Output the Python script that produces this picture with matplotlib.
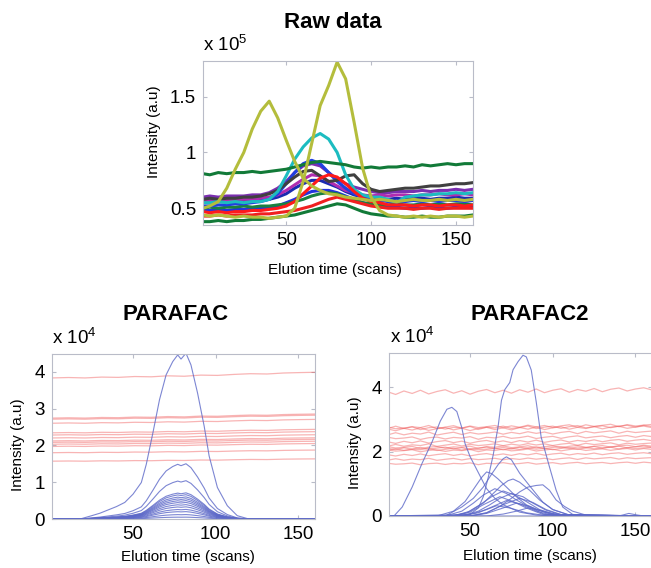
import numpy as np
import matplotlib
matplotlib.use('Agg')
import matplotlib.pyplot as plt

plt.rcParams['font.family'] = ['Liberation Sans', 'DejaVu Sans']
plt.rcParams['mathtext.fontset'] = 'custom'
plt.rcParams['mathtext.rm'] = 'Liberation Sans'

W, H = 651, 568

# ===== RAW DATA (x 10^5), read every 5 scans =====
scans = [1] + list(range(5, 161, 5))
raw_olive_a = [0.50, 0.52, 0.56, 0.68, 0.85, 1.00, 1.21, 1.37, 1.46, 1.31, 1.11, 0.92, 0.77, 0.70, 0.66, 0.63, 0.62,
               0.60, 0.59, 0.58, 0.57, 0.58, 0.57, 0.56, 0.57, 0.58, 0.57, 0.57, 0.58, 0.57, 0.58, 0.57, 0.58]
raw_olive_b = [0.44, 0.43, 0.44, 0.43, 0.42, 0.43, 0.42, 0.42, 0.41, 0.42, 0.43, 0.50, 0.74, 1.08, 1.42, 1.60, 1.81,
               1.66, 1.27, 0.86, 0.60, 0.48, 0.44, 0.43, 0.42, 0.43, 0.42, 0.43, 0.42, 0.43, 0.43, 0.42, 0.43]
raw_green_top = [0.81, 0.80, 0.82, 0.81, 0.82, 0.82, 0.83, 0.82, 0.83, 0.84, 0.85, 0.87, 0.89, 0.91, 0.92, 0.91, 0.90,
                 0.89, 0.87, 0.86, 0.87, 0.86, 0.87, 0.87, 0.88, 0.87, 0.89, 0.88, 0.89, 0.90, 0.89, 0.90, 0.90]
raw_green_low = [0.38, 0.38, 0.39, 0.38, 0.39, 0.39, 0.40, 0.40, 0.41, 0.42, 0.43, 0.44, 0.46, 0.48, 0.50, 0.52, 0.54,
                 0.53, 0.50, 0.47, 0.45, 0.44, 0.43, 0.43, 0.42, 0.42, 0.43, 0.42, 0.42, 0.43, 0.43, 0.43, 0.44]
raw_green_mid = [0.50, 0.51, 0.50, 0.51, 0.51, 0.52, 0.51, 0.52, 0.52, 0.53, 0.54, 0.56, 0.58, 0.61, 0.63, 0.64, 0.63,
                 0.60, 0.57, 0.55, 0.54, 0.53, 0.53, 0.54, 0.53, 0.53, 0.54, 0.53, 0.54, 0.53, 0.54, 0.54, 0.53]
raw_cyan = [0.55, 0.55, 0.56, 0.55, 0.56, 0.55, 0.56, 0.56, 0.58, 0.65, 0.79, 0.94, 1.05, 1.13, 1.17, 1.12, 1.00,
            0.80, 0.67, 0.62, 0.60, 0.60, 0.58, 0.55, 0.60, 0.61, 0.62, 0.62, 0.63, 0.63, 0.64, 0.63, 0.64]
raw_gray = [0.58, 0.59, 0.58, 0.59, 0.59, 0.60, 0.60, 0.61, 0.63, 0.66, 0.72, 0.78, 0.83, 0.84, 0.79, 0.74, 0.75,
            0.79, 0.80, 0.72, 0.67, 0.65, 0.66, 0.67, 0.68, 0.68, 0.69, 0.70, 0.70, 0.71, 0.72, 0.72, 0.73]
raw_purple = [0.60, 0.61, 0.60, 0.61, 0.61, 0.61, 0.62, 0.62, 0.64, 0.68, 0.74, 0.82, 0.88, 0.90, 0.88, 0.82, 0.76,
              0.72, 0.69, 0.67, 0.65, 0.64, 0.64, 0.65, 0.65, 0.65, 0.66, 0.65, 0.66, 0.66, 0.67, 0.66, 0.67]
raw_magenta = [0.57, 0.57, 0.58, 0.57, 0.58, 0.58, 0.58, 0.59, 0.60, 0.62, 0.66, 0.71, 0.76, 0.80, 0.79, 0.74, 0.70,
               0.66, 0.64, 0.62, 0.61, 0.62, 0.61, 0.62, 0.62, 0.61, 0.62, 0.62, 0.63, 0.62, 0.62, 0.63, 0.62]
raw_blue_a = [0.52, 0.52, 0.53, 0.53, 0.54, 0.54, 0.55, 0.56, 0.58, 0.63, 0.72, 0.82, 0.90, 0.93, 0.90, 0.82, 0.74,
              0.68, 0.63, 0.60, 0.58, 0.57, 0.56, 0.56, 0.56, 0.57, 0.56, 0.57, 0.56, 0.57, 0.57, 0.56, 0.57]
raw_blue_b = [0.48, 0.48, 0.49, 0.48, 0.49, 0.49, 0.49, 0.50, 0.50, 0.52, 0.55, 0.58, 0.62, 0.65, 0.66, 0.66, 0.64,
              0.61, 0.58, 0.55, 0.53, 0.52, 0.51, 0.51, 0.50, 0.51, 0.50, 0.51, 0.51, 0.50, 0.51, 0.51, 0.51]
raw_blue_c = [0.55, 0.55, 0.56, 0.56, 0.56, 0.57, 0.57, 0.57, 0.58, 0.60, 0.63, 0.68, 0.72, 0.75, 0.75, 0.72, 0.69,
              0.65, 0.62, 0.60, 0.59, 0.58, 0.58, 0.59, 0.58, 0.59, 0.59, 0.58, 0.59, 0.59, 0.60, 0.59, 0.59]
raw_red_a = [0.47, 0.46, 0.47, 0.46, 0.47, 0.47, 0.48, 0.48, 0.49, 0.50, 0.52, 0.56, 0.63, 0.70, 0.77, 0.80, 0.78,
             0.72, 0.65, 0.59, 0.56, 0.55, 0.53, 0.53, 0.53, 0.52, 0.53, 0.53, 0.52, 0.53, 0.53, 0.52, 0.53]
raw_red_b = [0.43, 0.43, 0.44, 0.43, 0.44, 0.44, 0.44, 0.45, 0.45, 0.46, 0.47, 0.48, 0.50, 0.52, 0.55, 0.58, 0.60,
             0.58, 0.56, 0.54, 0.52, 0.51, 0.50, 0.50, 0.50, 0.49, 0.50, 0.50, 0.49, 0.50, 0.50, 0.50, 0.50]

# ===== PARAFAC (x 10^4): one elution profile per component, scaled by sample scores =====
pf_blue_scans = [1, 18, 25, 30, 35, 40, 45, 50, 55, 58, 62, 66, 70, 74, 77, 79, 82, 85, 89, 93, 96, 101, 107, 113, 120, 160]
pf_blue_profile = [0, 0, 0.02, 0.035, 0.055, 0.075, 0.10, 0.15, 0.22, 0.33, 0.52, 0.72, 0.87, 0.95, 0.99, 0.965, 1.0,
                   0.93, 0.76, 0.56, 0.38, 0.19, 0.08, 0.02, 0, 0]
pf_blue_scores = [4.5, 1.5, 1.04, 0.71, 0.66, 0.60, 0.55, 0.50, 0.45, 0.39, 0.33, 0.26, 0.20, 0.12, 0.05]
pf_red_scans = [1, 11, 21, 31, 41, 51, 61, 71, 81, 91, 101, 111, 121, 131, 141, 151, 160]
pf_red_profile = [1.0, 1.003, 1.0, 1.006, 1.004, 1.010, 1.008, 1.015, 1.012, 1.020, 1.018, 1.025, 1.030, 1.028,
                  1.035, 1.038, 1.040]
pf_red_scores = [3.83, 2.74, 2.71, 2.60, 2.34, 2.28, 2.20, 2.12, 2.08, 2.03, 1.97, 1.80, 1.57]

# ===== PARAFAC2 (x 10^4): elution profiles differ per sample =====
p2_blue_scans = [
    [1, 50, 55, 58, 61, 64, 67, 69, 71, 74, 76, 79, 82, 84, 87, 90, 93, 96, 98, 102, 106, 112, 120, 160],
    [1, 4, 9, 15, 21, 27, 32, 36, 39, 42, 45, 47, 50, 55, 60, 65, 70, 80, 90, 100, 160],
    [1, 35, 45, 52, 58, 63, 67, 70, 72, 75, 80, 86, 94, 100, 110, 160],
    [1, 30, 40, 47, 53, 57, 60, 63, 67, 70, 74, 78, 84, 90, 100, 160],
    [1, 40, 50, 58, 64, 69, 73, 76, 80, 86, 92, 100, 110, 160],
    [1, 50, 60, 68, 75, 80, 85, 90, 94, 98, 102, 107, 112, 120, 160],
    [1, 35, 45, 52, 58, 65, 72, 78, 85, 95, 160],
    [1, 38, 48, 56, 63, 70, 77, 84, 92, 102, 160],
    [1, 45, 55, 62, 68, 75, 82, 88, 96, 106, 160],
    [1, 40, 50, 58, 68, 76, 84, 94, 160],
    [1, 50, 60, 70, 80, 88, 96, 106, 160],
    [1, 45, 55, 64, 72, 80, 90, 100, 160],
    [1, 50, 60, 70, 78, 86, 95, 105, 160],
    [1, 42, 52, 60, 66, 74, 84, 95, 160],
    [1, 60, 70, 78, 85, 92, 100, 110, 160],
    [1, 140, 146, 150, 155, 160],
]
p2_blue_vals = [
    [0, 0.05, 0.25, 0.6, 1.2, 1.9, 2.8, 3.6, 3.93, 4.15, 4.55, 4.8, 5.0, 4.95, 4.54, 3.55, 2.45, 1.9, 1.53, 0.81,
     0.28, 0.05, 0.01, 0],
    [0, 0, 0.28, 0.9, 1.64, 2.3, 2.95, 3.32, 3.38, 3.25, 2.75, 2.25, 1.85, 1.35, 0.85, 0.55, 0.35, 0.12, 0.03, 0, 0],
    [0, 0, 0.28, 0.55, 0.9, 1.3, 1.6, 1.78, 1.84, 1.75, 1.33, 0.94, 0.43, 0.2, 0.03, 0],
    [0, 0, 0.15, 0.45, 0.9, 1.2, 1.37, 1.32, 1.15, 1.0, 0.8, 0.6, 0.35, 0.2, 0.04, 0],
    [0, 0, 0.15, 0.4, 0.7, 0.95, 1.1, 1.15, 1.05, 0.8, 0.5, 0.2, 0.03, 0],
    [0, 0, 0.1, 0.3, 0.55, 0.75, 0.9, 0.95, 0.97, 0.8, 0.5, 0.3, 0.15, 0.03, 0],
    [0, 0, 0.15, 0.4, 0.65, 0.85, 0.7, 0.5, 0.3, 0.05, 0],
    [0, 0, 0.1, 0.35, 0.6, 0.78, 0.65, 0.45, 0.2, 0.03, 0],
    [0, 0, 0.15, 0.35, 0.55, 0.7, 0.6, 0.4, 0.18, 0.02, 0],
    [0, 0, 0.12, 0.35, 0.6, 0.45, 0.25, 0.05, 0],
    [0, 0, 0.1, 0.35, 0.55, 0.42, 0.2, 0.03, 0],
    [0, 0, 0.1, 0.3, 0.48, 0.38, 0.15, 0.02, 0],
    [0, 0, 0.08, 0.25, 0.4, 0.3, 0.12, 0.02, 0],
    [0, 0, 0.08, 0.2, 0.32, 0.25, 0.1, 0.02, 0],
    [0, 0, 0.06, 0.15, 0.25, 0.18, 0.08, 0.01, 0],
    [0, 0, 0.08, 0.04, 0, 0],
]
p2_red_levels = [3.85, 2.76, 2.73, 2.70, 2.56, 2.42, 2.30, 2.20, 2.13, 2.10, 2.07, 2.03, 1.90, 1.76, 1.62]
p2_ripple_a = [1.000, 0.982, 1.010, 0.990, 1.016, 0.986, 1.006, 1.020, 0.992, 1.012, 0.984, 1.008, 1.022, 0.996,
               1.016, 0.992, 1.020, 1.000, 1.026, 0.996, 1.016, 1.028, 1.000, 1.022, 1.008, 1.030, 1.004, 1.024,
               1.034, 1.010, 1.026, 1.036, 1.018]
p2_ripple_b = [0.990, 1.012, 0.986, 1.006, 0.996, 1.020, 0.984, 1.002, 1.018, 0.990, 1.014, 0.996, 1.006, 1.020,
               0.994, 1.016, 1.000, 1.024, 1.004, 1.020, 0.996, 1.016, 1.028, 1.000, 1.028, 1.010, 1.022, 1.034,
               1.006, 1.030, 1.014, 1.024, 1.032]
p2_ripple_c = [1.010, 0.994, 1.002, 1.016, 0.984, 1.006, 1.014, 0.990, 1.010, 1.002, 1.020, 0.986, 1.012, 1.004,
               1.024, 0.998, 1.008, 1.026, 0.996, 1.012, 1.024, 0.998, 1.018, 1.030, 1.004, 1.018, 1.028, 1.006,
               1.024, 1.034, 1.012, 1.034, 1.020]

# ===== FIGURE =====
fig = plt.figure(figsize=(W / 100, H / 100), dpi=100)


def px_axes(left, top, right, bottom):
    return fig.add_axes([left / W, 1 - bottom / H, (right - left) / W, (bottom - top) / H])


def style(ax):
    for s in ax.spines.values():
        s.set_color('#b9bcc8')
        s.set_linewidth(0.8)
    ax.tick_params(direction='in', length=3, color='#b9bcc8', labelsize=13.5, pad=5,
                   top=True, right=True)
    ax.set_facecolor('white')


# --- Raw data ---
ax = px_axes(203, 61, 473, 225)
raw = [
    (raw_blue_b, '#2233dd'), (raw_blue_c, '#1a2bb0'), (raw_purple, '#7b2fb0'), (raw_magenta, '#b02cb0'),
    (raw_green_mid, '#1a8040'), (raw_blue_a, '#2040e0'), (raw_gray, '#404040'), (raw_cyan, '#1cbcc0'),
    (raw_red_b, '#f02020'), (raw_red_a, '#ff1a1a'), (raw_green_low, '#127a38'), (raw_green_top, '#127a38'),
    (raw_olive_b, '#b4bd3c'), (raw_olive_a, '#b4bd3c'),
]
for vals, col in raw:
    ax.plot(scans, vals, color=col, lw=2.2)
ax.set_xlim(1, 160)
ax.set_ylim(0.35, 1.82)
ax.set_xticks([50, 100, 150])
ax.set_yticks([0.5, 1, 1.5])
ax.set_yticklabels(['0.5', '1', '1.5'])
style(ax)
ax.set_xlabel('Elution time (scans)', fontsize=11)
ax.xaxis.set_label_coords(0.487, -0.23)
ax.set_ylabel('Intensity (a.u)', fontsize=11)
ax.yaxis.set_label_coords(-0.156, 0.57)
fig.text(333 / W, 1 - 23 / H, 'Raw data', fontsize=16, fontweight='bold', ha='center', va='center')
fig.text(203 / W, 1 - 51 / H, r'x 10$^{5}$', fontsize=13.5, ha='left', va='baseline')

# --- PARAFAC ---
ax = px_axes(52, 354, 315, 519)
for sc in pf_red_scores:
    ax.plot(pf_red_scans, np.array(pf_red_profile) * sc, color='#f05a5a', alpha=0.45, lw=0.9)
for sc in pf_blue_scores:
    ax.plot(pf_blue_scans, np.array(pf_blue_profile) * sc, color='#5c68c8', alpha=0.8, lw=0.8)
ax.set_xlim(1, 160)
ax.set_ylim(0, 4.48)
ax.set_xticks([50, 100, 150])
ax.set_yticks([0, 1, 2, 3, 4])
style(ax)
ax.set_xlabel('Elution time (scans)', fontsize=11)
ax.xaxis.set_label_coords(0.517, -0.19)
ax.set_ylabel('Intensity (a.u)', fontsize=11)
ax.yaxis.set_label_coords(-0.103, 0.45)
fig.text(176 / W, 1 - 315 / H, 'PARAFAC', fontsize=16, fontweight='bold', ha='center', va='center')
fig.text(52 / W, 1 - 344 / H, r'x 10$^{4}$', fontsize=13.5, ha='left', va='baseline')

# --- PARAFAC2 ---
ax = px_axes(389, 353, 652, 516)
ripples = [p2_ripple_a, p2_ripple_b, p2_ripple_c]
for i, lev in enumerate(p2_red_levels):
    ax.plot(scans, np.array(ripples[i % 3]) * lev, color='#f05a5a', alpha=0.45, lw=0.9)
for sc, vals in zip(p2_blue_scans, p2_blue_vals):
    ax.plot(sc, vals, color='#5c68c8', alpha=0.8, lw=0.8)
ax.set_xlim(1, 160)
ax.set_ylim(0, 5.07)
ax.set_xticks([50, 100, 150])
ax.set_yticks([0, 2, 4])
style(ax)
ax.set_xlabel('Elution time (scans)', fontsize=11)
ax.xaxis.set_label_coords(0.536, -0.205)
ax.set_ylabel('Intensity (a.u)', fontsize=11)
ax.yaxis.set_label_coords(-0.103, 0.45)
fig.text(530 / W, 1 - 315 / H, 'PARAFAC2', fontsize=16, fontweight='bold', ha='center', va='center')
fig.text(390 / W, 1 - 343 / H, r'x 10$^{4}$', fontsize=13.5, ha='left', va='baseline')

fig.savefig('out.png', dpi=100)
